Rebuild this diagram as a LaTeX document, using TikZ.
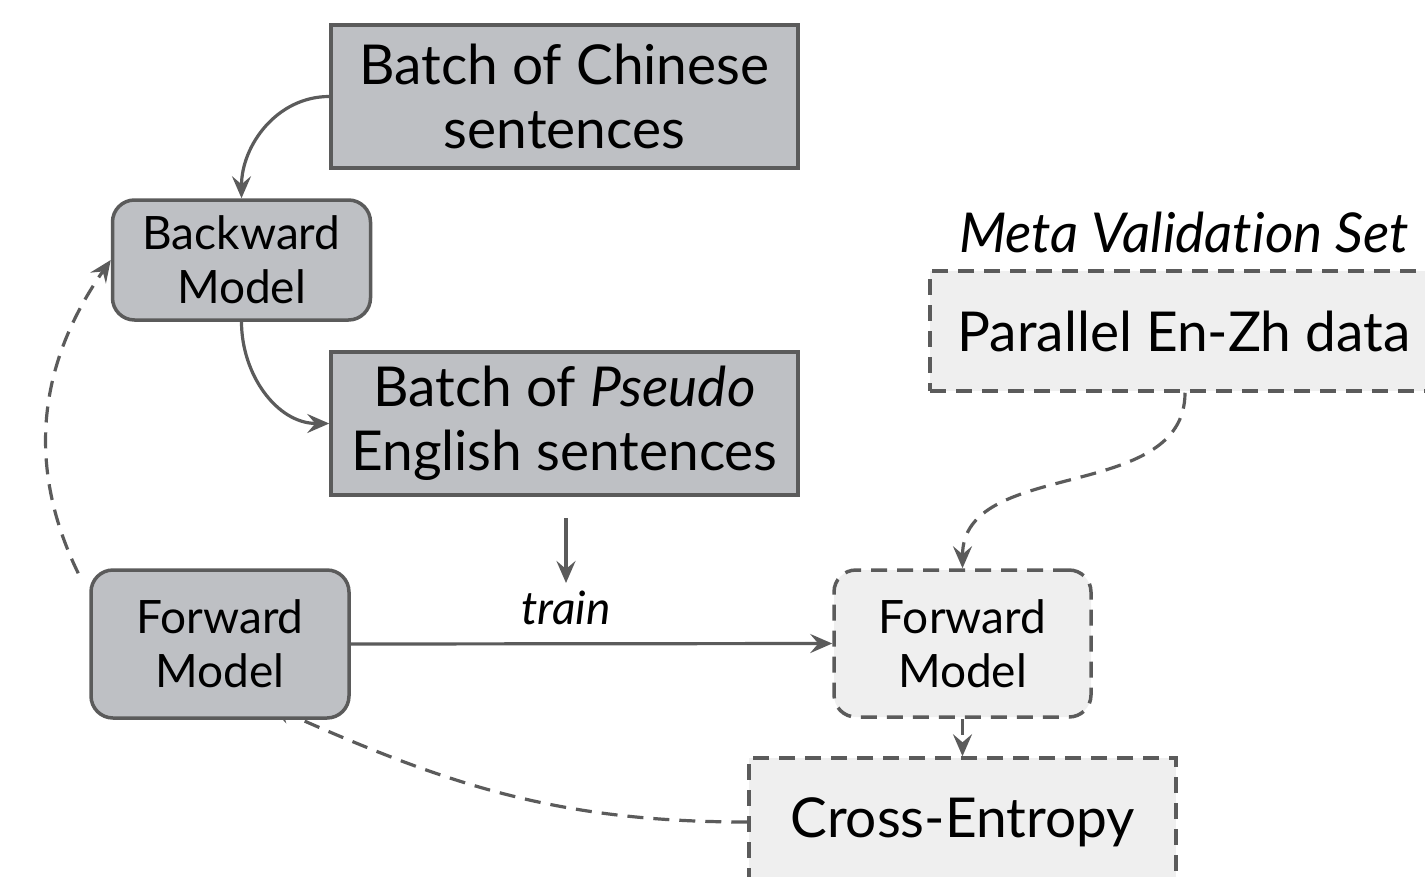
\documentclass[tikz,border=0pt]{standalone}
\usepackage{fontspec}
\setmainfont{Lato}[RawFeature={-liga;-dlig;-clig}]
\usetikzlibrary{arrows.meta,backgrounds}
\definecolor{linegray}{HTML}{5B5B5B}
\definecolor{boxgray}{HTML}{BEC0C4}
\definecolor{boxlight}{HTML}{EFEFEF}

\begin{document}
\begin{tikzpicture}[x=1pt,y=-1pt,
  base/.style={draw=linegray, line width=3.5pt, align=center, inner sep=0pt, text=black},
  bigfont/.style={font=\fontsize{55}{64}\selectfont},
  smallfont/.style={font=\fontsize{46}{54}\selectfont},
  batchbox/.style={base, bigfont, fill=boxgray, minimum width=467pt, minimum height=143pt},
  modelbox/.style={base, smallfont, fill=boxgray, rounded corners=22pt, minimum width=258pt},
  metabox/.style={base, fill=boxlight, dash pattern=on 16pt off 10pt},
  conn/.style={draw=linegray, line width=3.2pt, -{Stealth[length=22pt, width=19pt, inset=8pt]}},
  dconn/.style={conn, dash pattern=on 16pt off 10pt}
]
\useasboundingbox (0,0) rectangle (1425,876);
\clip (0,0) rectangle (1425,876);

% nodes
\node[batchbox] (chn) at (564.5,96.5) {Batch of Chinese\\sentences};
\node[modelbox, minimum height=120pt] (bwd) at (241.5,260) {Backward\\Model};
\node[batchbox] (pse) at (564.5,423.5) {Batch of \textit{Pseudo}\\English sentences};
\node[modelbox, minimum height=148pt] (fwdL) at (220,644) {Forward\\Model};
\node[metabox, smallfont, rounded corners=22pt, minimum width=257pt, minimum height=147pt] (fwdR) at (962.5,643.5) {Forward\\Model};
\node[metabox, bigfont, minimum width=427pt, minimum height=128pt] (ce) at (962.5,822) {Cross-Entropy};
\node[metabox, bigfont, minimum width=508pt, minimum height=120pt] (par) at (1184,331) {Parallel En-Zh data};
\node[bigfont, inner sep=0pt] (meta) at (1184,232) {\textit{Meta Validation Set}};
\node[smallfont, inner sep=0pt] (train) at (566,608) {\textit{train}};
\coordinate (trainsrc) at (566,518);
\coordinate (traintip) at (566,583);

% connectors
\draw[conn] (chn.west) to[out=180, in=90] (bwd.north);
\draw[conn] (bwd.south) to[out=-90, in=180] (pse.west);
\draw[conn] (trainsrc) -- (traintip);
\draw[conn] (fwdL.east) -- (fwdR.west);
\draw[dconn] (par.south -| 1185,0) to[out=-90, in=90] (fwdR.north);
\draw[dconn] (fwdR.south) -- (ce.north);
\draw[dconn] ([xshift=-11pt,yshift=-5pt]fwdL.north west) to[out=116, in=-125] (bwd.west);
% the loss feeds back under the forward model box
\begin{scope}[on background layer]
\draw[dconn] (ce.west) to[out=180, in=-24] ([xshift=50pt,yshift=14pt]fwdL.south);
\end{scope}
\end{tikzpicture}
\end{document}
